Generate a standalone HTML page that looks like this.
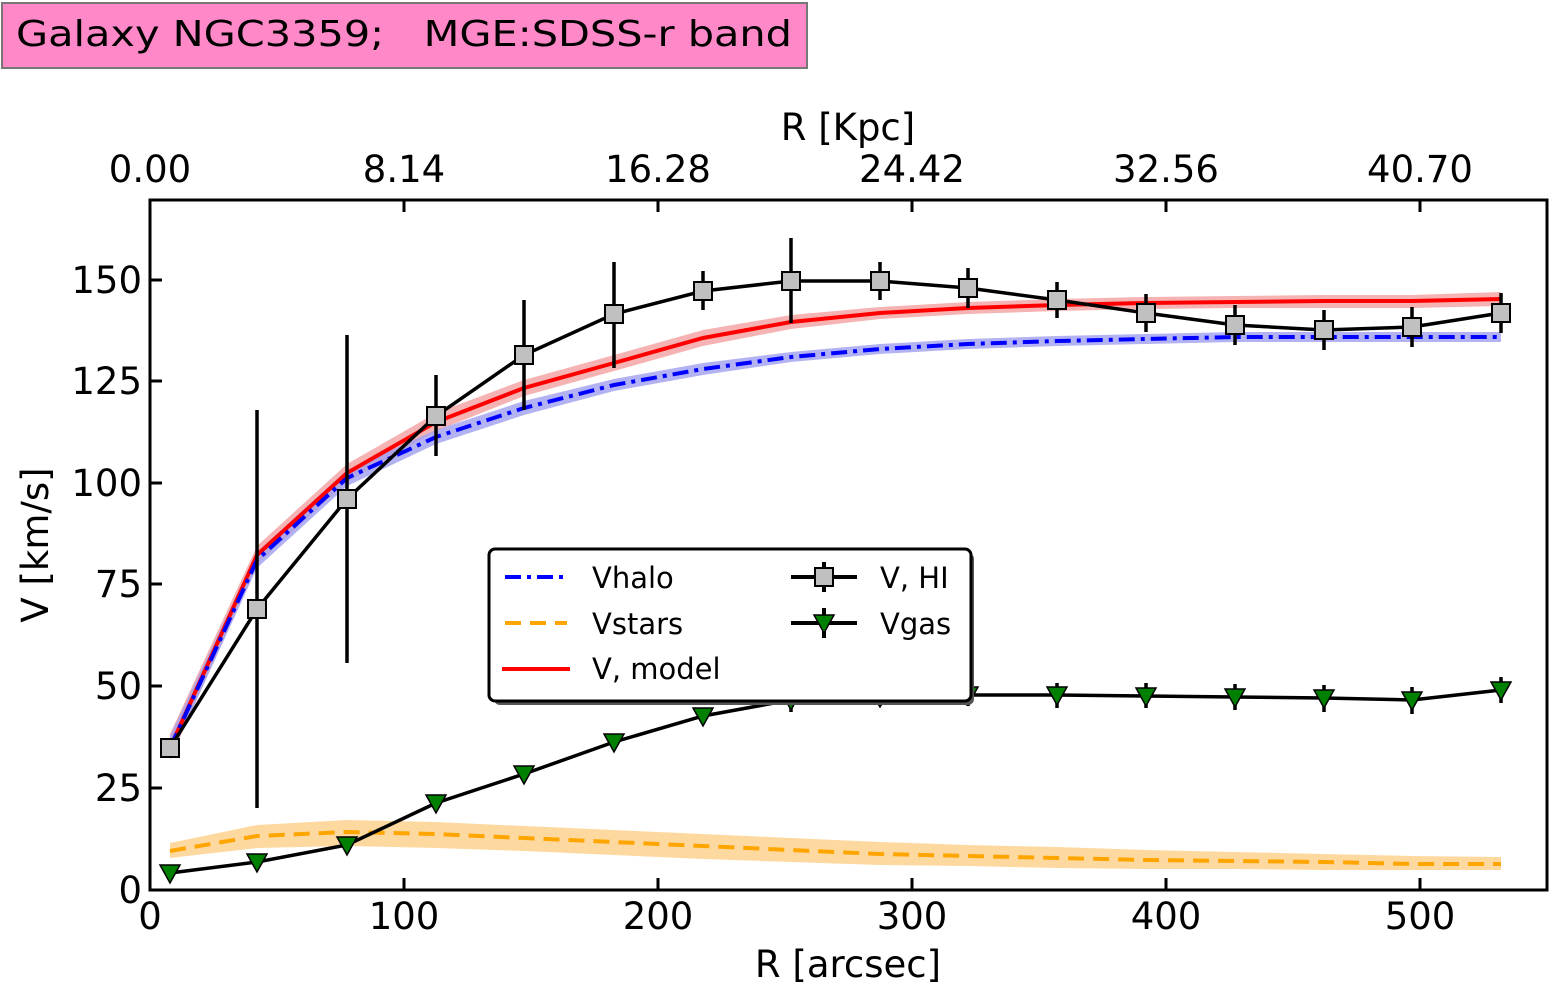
<!DOCTYPE html>
<html><head><meta charset="utf-8"><style>
body{margin:0;background:#fff;}
svg{display:block;font-family:"DejaVu Sans","Liberation Sans",sans-serif;}
</style></head><body>
<svg width="1566" height="1003" viewBox="0 0 1566 1003">
<rect x="2" y="3" width="805" height="65" fill="#ff88c8" stroke="#777" stroke-width="2"/>
<text x="16" y="46" font-size="36" textLength="776" lengthAdjust="spacingAndGlyphs" style="white-space:pre">Galaxy NGC3359;   MGE:SDSS-r band</text>

<path d="M170,734 L257,546 L347,464 L436,413 L524,380 L614,355 L703,330 L791,315 L880,307 L968,302 L1057,299 L1146,297 L1235,296 L1324,295 L1412,295 L1501,292 L1501,306 L1412,308 L1324,308 L1235,308 L1146,309 L1057,311 L968,314 L880,319 L791,329 L703,346 L614,371 L524,396 L436,431 L347,482 L257,564 L170,760Z" fill="#f4a0a0" opacity="0.8"/>
<path d="M170,736 L257,552 L347,470 L436,430 L524,401 L614,379 L703,363 L791,352 L880,344 L968,339 L1057,336 L1146,334 L1235,332 L1324,332 L1412,332 L1501,332 L1501,342 L1412,342 L1324,342 L1235,342 L1146,344 L1057,346 L968,349 L880,354 L791,362 L703,375 L614,391 L524,415 L436,444 L347,486 L257,568 L170,758Z" fill="#a0a0f0" opacity="0.8"/>
<path d="M170,843 L257,825 L347,820 L436,822 L524,826 L614,830 L703,834 L791,838 L880,842 L968,845 L1057,847 L1146,850 L1235,852 L1324,854 L1412,856 L1501,857 L1501,870 L1412,870 L1324,870 L1235,869 L1146,869 L1057,868 L968,866 L880,865 L791,862 L703,859 L614,855 L524,851 L436,848 L347,846 L257,848 L170,858Z" fill="#fdd9a0"/>

<g fill="none" stroke-width="4">
<polyline stroke="#ff0000" points="170,748 257,555 347,473 436,422 524,388 614,363 703,338 791,322 880,313 968,308 1057,305 1146,303 1235,302 1324,301 1412,301 1501,299"/>
<polyline stroke="#0000ff" stroke-dasharray="16,6,4,6" points="170,748 257,560 347,478 436,437 524,408 614,385 703,369 791,357 880,349 968,344 1057,341 1146,339 1235,337 1324,337 1412,337 1501,337"/>
<polyline stroke="#ffa500" stroke-dasharray="16,9" points="170,851 257,836 347,832 436,834 524,838 614,842 703,846 791,850 880,854 968,856 1057,858 1146,860 1235,861 1324,862 1412,864 1501,864"/>
</g>

<g stroke="#000" stroke-width="3.5">
<line x1="257" y1="410" x2="257" y2="808"/><line x1="347" y1="335" x2="347" y2="663"/>
<line x1="436" y1="375" x2="436" y2="456"/><line x1="524" y1="300" x2="524" y2="410"/>
<line x1="614" y1="262" x2="614" y2="368"/><line x1="703" y1="271" x2="703" y2="310"/>
<line x1="791" y1="238" x2="791" y2="323"/><line x1="880" y1="262" x2="880" y2="300"/>
<line x1="968" y1="268" x2="968" y2="308"/><line x1="1057" y1="282" x2="1057" y2="318"/>
<line x1="1146" y1="294" x2="1146" y2="332"/><line x1="1235" y1="305" x2="1235" y2="345"/>
<line x1="1324" y1="310" x2="1324" y2="350"/><line x1="1412" y1="307" x2="1412" y2="347"/>
<line x1="1501" y1="293" x2="1501" y2="333"/>
<line x1="791" y1="690" x2="791" y2="712"/><line x1="880" y1="688" x2="880" y2="706"/><line x1="968" y1="686" x2="968" y2="706"/>
<line x1="1057" y1="683" x2="1057" y2="708"/><line x1="1146" y1="683" x2="1146" y2="708"/><line x1="1235" y1="684" x2="1235" y2="710"/>
<line x1="1324" y1="685" x2="1324" y2="712"/><line x1="1412" y1="687" x2="1412" y2="714"/><line x1="1501" y1="677" x2="1501" y2="703"/>
</g>
<polyline fill="none" stroke="#000" stroke-width="3.5" points="170,748 257,609 347,499 436,416 524,355 614,314 703,291 791,281 880,281 968,288 1057,300 1146,313 1235,325 1324,330 1412,327 1501,313"/>
<g fill="#c0c0c0" stroke="#000" stroke-width="2">
<rect x="161" y="739" width="18" height="18"/><rect x="248" y="600" width="18" height="18"/><rect x="338" y="490" width="18" height="18"/>
<rect x="427" y="407" width="18" height="18"/><rect x="515" y="346" width="18" height="18"/><rect x="605" y="305" width="18" height="18"/>
<rect x="694" y="282" width="18" height="18"/><rect x="782" y="272" width="18" height="18"/><rect x="871" y="272" width="18" height="18"/>
<rect x="959" y="279" width="18" height="18"/><rect x="1048" y="291" width="18" height="18"/><rect x="1137" y="304" width="18" height="18"/>
<rect x="1226" y="316" width="18" height="18"/><rect x="1315" y="321" width="18" height="18"/><rect x="1403" y="318" width="18" height="18"/>
<rect x="1492" y="304" width="18" height="18"/>
</g>
<polyline fill="none" stroke="#000" stroke-width="3.5" points="170,873 257,862 347,845 436,803 524,774 614,742 703,716 791,700 880,697 968,695 1057,695 1146,696 1235,697 1324,698 1412,700 1501,690"/>
<g fill="#008000" stroke="#000" stroke-width="1.5">
<path d="M-10,-8 L10,-8 L0,10Z" transform="translate(170,873)"/>
<path d="M-10,-8 L10,-8 L0,10Z" transform="translate(257,862)"/><path d="M-10,-8 L10,-8 L0,10Z" transform="translate(347,845)"/>
<path d="M-10,-8 L10,-8 L0,10Z" transform="translate(436,803)"/><path d="M-10,-8 L10,-8 L0,10Z" transform="translate(524,774)"/>
<path d="M-10,-8 L10,-8 L0,10Z" transform="translate(614,742)"/><path d="M-10,-8 L10,-8 L0,10Z" transform="translate(703,716)"/>
<path d="M-10,-8 L10,-8 L0,10Z" transform="translate(791,700)"/><path d="M-10,-8 L10,-8 L0,10Z" transform="translate(880,697)"/>
<path d="M-10,-8 L10,-8 L0,10Z" transform="translate(968,695)"/><path d="M-10,-8 L10,-8 L0,10Z" transform="translate(1057,695)"/>
<path d="M-10,-8 L10,-8 L0,10Z" transform="translate(1146,696)"/><path d="M-10,-8 L10,-8 L0,10Z" transform="translate(1235,697)"/>
<path d="M-10,-8 L10,-8 L0,10Z" transform="translate(1324,698)"/><path d="M-10,-8 L10,-8 L0,10Z" transform="translate(1412,700)"/>
<path d="M-10,-8 L10,-8 L0,10Z" transform="translate(1501,690)"/>
</g>

<rect x="494" y="553" width="480" height="152" rx="6" fill="#555"/>
<rect x="489" y="549" width="482" height="152" rx="6" fill="#fff" stroke="#000" stroke-width="3"/>
<g stroke-width="4">
<line x1="505" y1="577" x2="567" y2="577" stroke="#0000ff" stroke-dasharray="16,6,4,6"/>
<line x1="505" y1="623" x2="567" y2="623" stroke="#ffa500" stroke-dasharray="16,9"/>
<line x1="502" y1="669" x2="570" y2="669" stroke="#ff0000"/>
<line x1="791" y1="577" x2="857" y2="577" stroke="#000"/>
<line x1="824" y1="562" x2="824" y2="592" stroke="#000"/>
<line x1="791" y1="623" x2="857" y2="623" stroke="#000"/>
<line x1="824" y1="608" x2="824" y2="638" stroke="#000"/>
</g>
<rect x="815" y="568" width="18" height="18" fill="#c0c0c0" stroke="#000" stroke-width="2"/>
<path d="M814,615 L834,615 L824,633Z" fill="#008000" stroke="#000" stroke-width="1.5"/>
<g font-size="29">
<text x="592" y="588">Vhalo</text><text x="592" y="634">Vstars</text><text x="592" y="679">V, model</text>
<text x="880" y="588">V, HI</text><text x="880" y="634">Vgas</text>
</g>

<rect x="150" y="200" width="1397" height="690" fill="none" stroke="#000" stroke-width="3"/>
<g stroke="#000" stroke-width="3">
<line x1="150" y1="890" x2="150" y2="878"/><line x1="404" y1="890" x2="404" y2="878"/><line x1="658" y1="890" x2="658" y2="878"/>
<line x1="912" y1="890" x2="912" y2="878"/><line x1="1166" y1="890" x2="1166" y2="878"/><line x1="1420" y1="890" x2="1420" y2="878"/>
<line x1="150" y1="200" x2="150" y2="212"/><line x1="404" y1="200" x2="404" y2="212"/><line x1="658" y1="200" x2="658" y2="212"/>
<line x1="912" y1="200" x2="912" y2="212"/><line x1="1166" y1="200" x2="1166" y2="212"/><line x1="1420" y1="200" x2="1420" y2="212"/>
<line x1="150" y1="788" x2="162" y2="788"/><line x1="150" y1="686" x2="162" y2="686"/><line x1="150" y1="584" x2="162" y2="584"/>
<line x1="150" y1="483" x2="162" y2="483"/><line x1="150" y1="381" x2="162" y2="381"/><line x1="150" y1="280" x2="162" y2="280"/>
</g>
<g font-size="37" text-anchor="middle">
<text x="150" y="929">0</text><text x="404" y="929">100</text><text x="658" y="929">200</text>
<text x="912" y="929">300</text><text x="1166" y="929">400</text><text x="1420" y="929">500</text>
<text x="848" y="977">R [arcsec]</text>
<text x="150" y="182">0.00</text><text x="404" y="182">8.14</text><text x="658" y="182">16.28</text>
<text x="912" y="182">24.42</text><text x="1166" y="182">32.56</text><text x="1420" y="182">40.70</text>
<text x="848" y="140">R [Kpc]</text>
</g>
<g font-size="37" text-anchor="end">
<text x="142" y="903">0</text><text x="142" y="801">25</text><text x="142" y="699">50</text>
<text x="142" y="597">75</text><text x="142" y="496">100</text><text x="142" y="394">125</text><text x="142" y="293">150</text>
</g>
<text transform="translate(48,545) rotate(-90)" font-size="37" text-anchor="middle">V [km/s]</text>
</svg>
</body></html>
